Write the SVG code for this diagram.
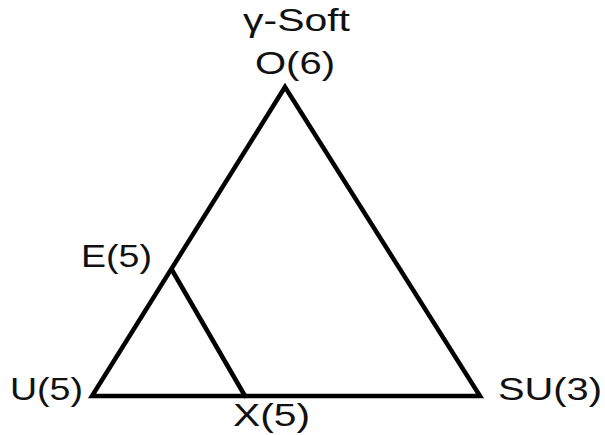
<svg xmlns="http://www.w3.org/2000/svg" width="605" height="435" viewBox="0 0 605 435">
<style>
.l{stroke:#000;stroke-width:4.5;fill:none;stroke-linejoin:miter;stroke-linecap:round}
.t{font-family:"Liberation Sans",Arial,sans-serif;font-size:31px;fill:#111}
</style>
<rect width="605" height="435" fill="#fff"/>
<g id="connectors">
<path class="l" d="M285,87 L92,396 L480,396 Z"/>
<path class="l" d="M172,270 L245,396"/>
</g>
<g id="title"><text class="t" x="243" y="31" textLength="107" lengthAdjust="spacingAndGlyphs">γ-Soft</text></g>
<g id="O"><text class="t" x="255" y="74" textLength="80" lengthAdjust="spacingAndGlyphs">O(6)</text></g>
<g id="E"><text class="t" x="81" y="267" textLength="71" lengthAdjust="spacingAndGlyphs">E(5)</text></g>
<g id="U"><text class="t" x="10" y="400" textLength="73" lengthAdjust="spacingAndGlyphs">U(5)</text></g>
<g id="X"><text class="t" x="233" y="426" textLength="77" lengthAdjust="spacingAndGlyphs">X(5)</text></g>
<g id="SU"><text class="t" x="498" y="400" textLength="104" lengthAdjust="spacingAndGlyphs">SU(3)</text></g>
</svg>
